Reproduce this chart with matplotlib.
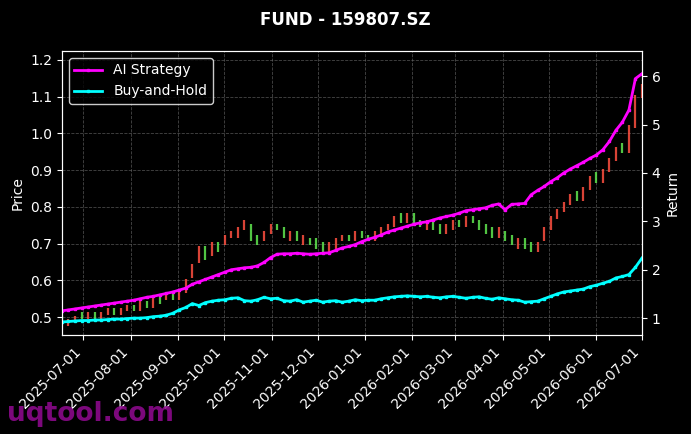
import numpy as np
import pandas as pd
import matplotlib
matplotlib.use("Agg")
import matplotlib.pyplot as plt
import matplotlib.dates as mdates

# preços (abertura / fecho) e retornos acumulados
abertura = [0.50,0.48,0.49,0.51,0.50,0.51,0.50,0.51,0.52,0.51,0.52,
            0.53,0.52,0.54,0.53,0.55,0.55,0.56,0.55,
            0.57,0.61,0.65,0.69,0.67,0.70,0.70,0.72,
            0.72,0.74,0.75,0.72,0.71,0.73,0.75,
            0.74,0.71,0.73,0.70,0.71,0.71,0.70,0.68,
            0.69,0.71,0.72,0.71,0.73,0.72,0.71,
            0.73,0.74,0.75,0.78,0.76,0.78,0.76,0.74,
            0.76,0.75,0.73,0.74,0.76,0.75,
            0.77,0.76,0.75,0.74,0.72,0.73,0.72,0.69,
            0.71,0.70,0.68,0.71,0.74,0.77,0.79,
            0.81,0.84,0.82,0.85,0.89,0.87,0.90,0.93,
            0.97,0.95,1.02,1.10]
fecho = [0.49,0.49,0.50,0.50,0.51,0.50,0.51,0.52,0.51,0.52,0.53,
         0.52,0.54,0.53,0.55,0.54,0.56,0.55,0.57,
         0.60,0.64,0.69,0.66,0.70,0.68,0.72,0.73,
         0.74,0.76,0.71,0.70,0.73,0.75,0.74,
         0.72,0.73,0.71,0.72,0.70,0.69,0.68,0.70,
         0.71,0.72,0.71,0.73,0.72,0.71,0.73,
         0.74,0.75,0.77,0.76,0.78,0.76,0.75,0.76,
         0.74,0.73,0.75,0.76,0.75,0.77,
         0.76,0.74,0.73,0.72,0.74,0.71,0.70,0.71,
         0.69,0.68,0.70,0.74,0.77,0.79,0.81,
         0.83,0.82,0.85,0.88,0.87,0.90,0.93,0.96,
         0.95,1.02,1.10,1.13]
ret_ai = [1.15,1.17,1.19,1.21,1.23,1.25,1.27,1.29,1.31,1.33,1.35,
          1.37,1.40,1.43,1.45,1.48,1.51,1.54,1.58,
          1.62,1.70,1.75,1.80,1.85,1.90,1.95,2.00,
          2.02,2.04,2.05,2.08,2.15,2.25,2.32,
          2.33,2.33,2.34,2.33,2.32,2.33,2.34,2.35,
          2.40,2.45,2.48,2.52,2.58,2.63,2.67,
          2.72,2.78,2.82,2.86,2.90,2.94,2.97,2.99,
          3.03,3.07,3.10,3.13,3.17,3.22,
          3.24,3.26,3.28,3.33,3.36,3.24,3.35,3.36,
          3.37,3.55,3.64,3.72,3.82,3.90,4.00,
          4.08,4.15,4.22,4.30,4.37,4.48,4.65,4.88,
          5.05,5.30,5.95,6.05]
ret_bh = [0.92,0.93,0.94,0.95,0.95,0.96,0.96,0.97,0.98,0.98,0.99,
          1.00,1.00,1.01,1.03,1.04,1.06,1.10,1.17,
          1.22,1.30,1.26,1.32,1.35,1.37,1.38,1.41,
          1.42,1.36,1.35,1.38,1.43,1.40,1.41,
          1.36,1.35,1.38,1.33,1.35,1.37,1.33,1.35,
          1.36,1.33,1.35,1.38,1.36,1.37,1.37,
          1.40,1.42,1.44,1.45,1.46,1.45,1.44,1.45,
          1.43,1.42,1.44,1.45,1.43,1.41,
          1.43,1.44,1.41,1.39,1.42,1.40,1.38,1.37,
          1.33,1.34,1.35,1.40,1.45,1.50,1.54,
          1.56,1.58,1.60,1.65,1.68,1.72,1.76,1.83,
          1.86,1.90,2.05,2.24]

datas = pd.date_range("2025-06-17", "2026-07-01", periods=len(fecho))

fig = plt.figure(figsize=(6.91, 4.34), dpi=100, facecolor="black")
ax = fig.add_axes([0.0897, 0.228, 0.8393, 0.6545], facecolor="black")
ax2 = ax.twinx()

# velas (só corpos)
cores = ["#ff5040" if c >= o else "#60e850" for o, c in zip(abertura, fecho)]
ax.vlines(datas, np.minimum(abertura, fecho) - 0.004, np.maximum(abertura, fecho) + 0.004,
          colors=cores, linewidth=1.6, alpha=0.85)

ax2.plot(datas, ret_ai, color="#ff00ff", lw=2, marker="s", markersize=2, label="AI Strategy")
ax2.plot(datas, ret_bh, color="#00ffff", lw=2, marker="s", markersize=2, label="Buy-and-Hold")

ax.set_ylim(0.451, 1.2245)
ax2.set_ylim(0.65, 6.52)
ax.set_xlim(datas[0], datas[-1])
ax.xaxis.set_major_locator(mdates.MonthLocator())
ax.xaxis.set_major_formatter(mdates.DateFormatter("%Y-%m-%d"))
plt.setp(ax.get_xticklabels(), rotation=45, ha="right")

ax.grid(True, color="#666666", linestyle="--", linewidth=0.6, alpha=0.7)
for a in (ax, ax2):
    a.tick_params(colors="white", labelsize=10)
    for s in a.spines.values():
        s.set_color("white")
ax.set_ylabel("Price", color="white")
ax2.set_ylabel("Return", color="white")

leg = ax2.legend(loc="upper left", facecolor="black", edgecolor="white", fontsize=10)
for t in leg.get_texts():
    t.set_color("white")

fig.suptitle("FUND - 159807.SZ", color="white", fontweight="bold", fontsize=12, y=0.975)
fig.text(0.01, 0.03, "uqtool.com", color="#8b0a8b", fontsize=19, fontweight="bold", alpha=0.9)

fig.savefig("out.png", facecolor="black")
